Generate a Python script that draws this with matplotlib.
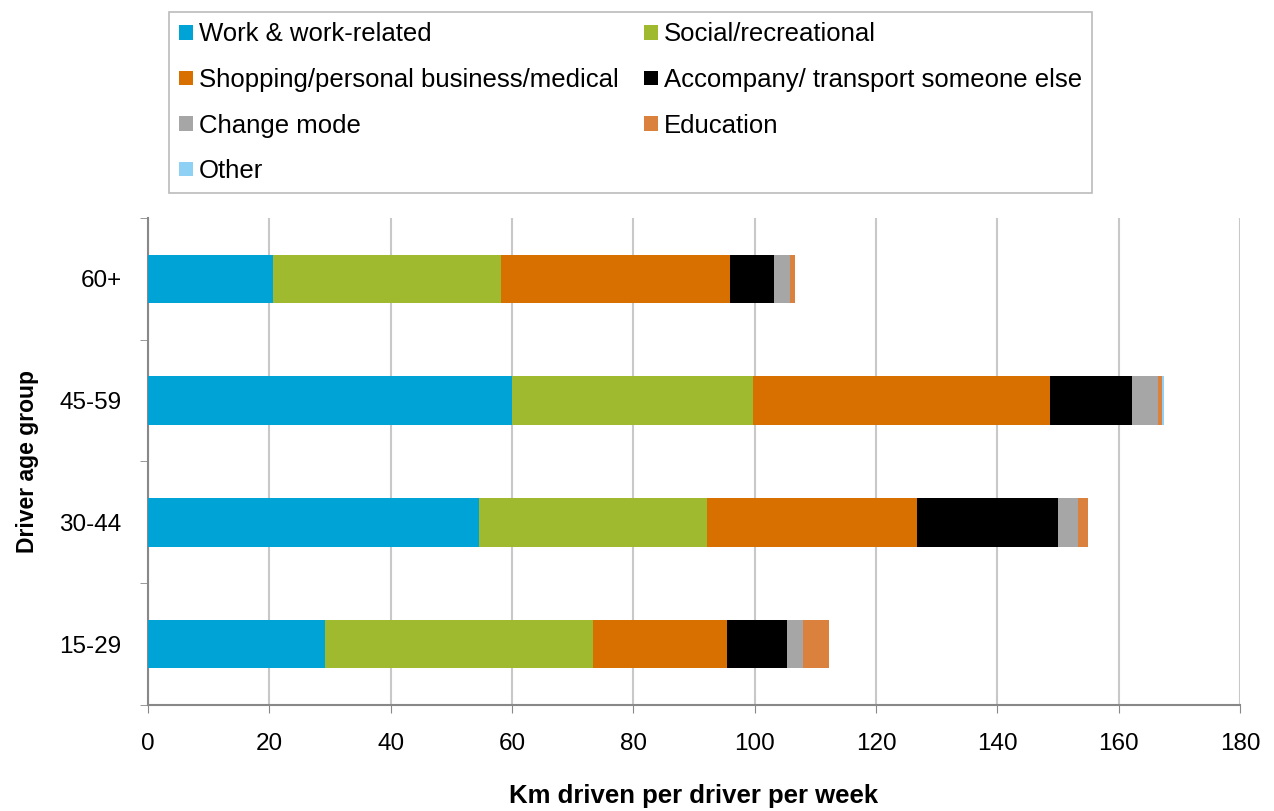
import numpy as np
import matplotlib
matplotlib.use("Agg")
import matplotlib.pyplot as plt
from matplotlib.patches import Patch

plt.rcParams['font.family'] = ['Liberation Sans', 'DejaVu Sans']

age_groups = ["15-29", "30-44", "45-59", "60+"]
purposes = ["Work & work-related", "Social/recreational",
            "Shopping/personal business/medical", "Accompany/ transport someone else",
            "Change mode", "Education", "Other"]
colors = ["#00A3D6", "#A0BA30", "#D87000", "#000000", "#A6A6A6", "#DA813E", "#8FD0F5"]

# km per driver per week, rows follow age_groups
work = [29.2, 54.6, 60.0, 20.6]
social = [44.1, 37.5, 39.7, 37.6]
shopping = [22.1, 34.6, 49.0, 37.8]
accompany = [9.9, 23.3, 13.5, 7.2]
change_mode = [2.6, 3.3, 4.3, 2.7]
education = [4.3, 1.7, 0.6, 0.7]
other = [0.0, 0.0, 0.3, 0.0]

series = [work, social, shopping, accompany, change_mode, education, other]

fig = plt.figure(figsize=(12.74, 8.11), dpi=100)
ax = fig.add_axes([0.1162, 0.1307, 0.8571, 0.6005])

y = np.arange(len(age_groups))
left = np.zeros(len(age_groups))
for vals, c in zip(series, colors):
    ax.barh(y, vals, left=left, height=0.4, color=c, zorder=3)
    left += np.array(vals)

ax.set_xlim(0, 180)
ax.set_ylim(-0.5, 3.5)
ax.set_xticks(np.arange(0, 181, 20))
ax.set_yticks(y)
ax.set_yticklabels(age_groups)
ax.set_yticks(np.arange(-0.5, 3.6, 1), minor=True)
ax.tick_params(axis='y', which='major', length=0, pad=19, labelsize=17.5)
ax.tick_params(axis='y', which='minor', length=6, color='#888888', direction='out')
ax.tick_params(axis='x', length=6, color='#888888', direction='out', pad=14, labelsize=17.5)

ax.grid(axis='x', color='#C8C8C8', linewidth=1.5, zorder=0)
for s in ['top', 'right']:
    ax.spines[s].set_visible(False)
for s in ['left', 'bottom']:
    ax.spines[s].set_color('#888888')
    ax.spines[s].set_linewidth(1.5)

ax.set_xlabel("Km driven per driver per week", fontsize=18.5, fontweight='bold')
ax.set_ylabel("Driver age group", fontsize=16.5, fontweight='bold')
ax.xaxis.set_label_coords(0.5, -0.163)
ax.yaxis.set_label_coords(-0.100, 0.5)

# legend filled column-wise: left column then right column
order = [0, 2, 4, 6, 1, 3, 5]
handles = [Patch(facecolor=colors[i], label=purposes[i]) for i in order]
leg = fig.legend(handles=handles, ncol=2, loc='upper left',
                 bbox_to_anchor=(0.1327, 0.767, 0.7244, 0.218), mode='expand',
                 borderaxespad=0, fontsize=18.5, frameon=True, fancybox=False,
                 edgecolor='#AAAAAA', handlelength=0.55, handleheight=0.5,
                 handletextpad=0.2, columnspacing=0.1, labelspacing=0.84,
                 borderpad=0.4)
leg.get_frame().set_linewidth(1.2)

fig.savefig("out.png", dpi=100)
